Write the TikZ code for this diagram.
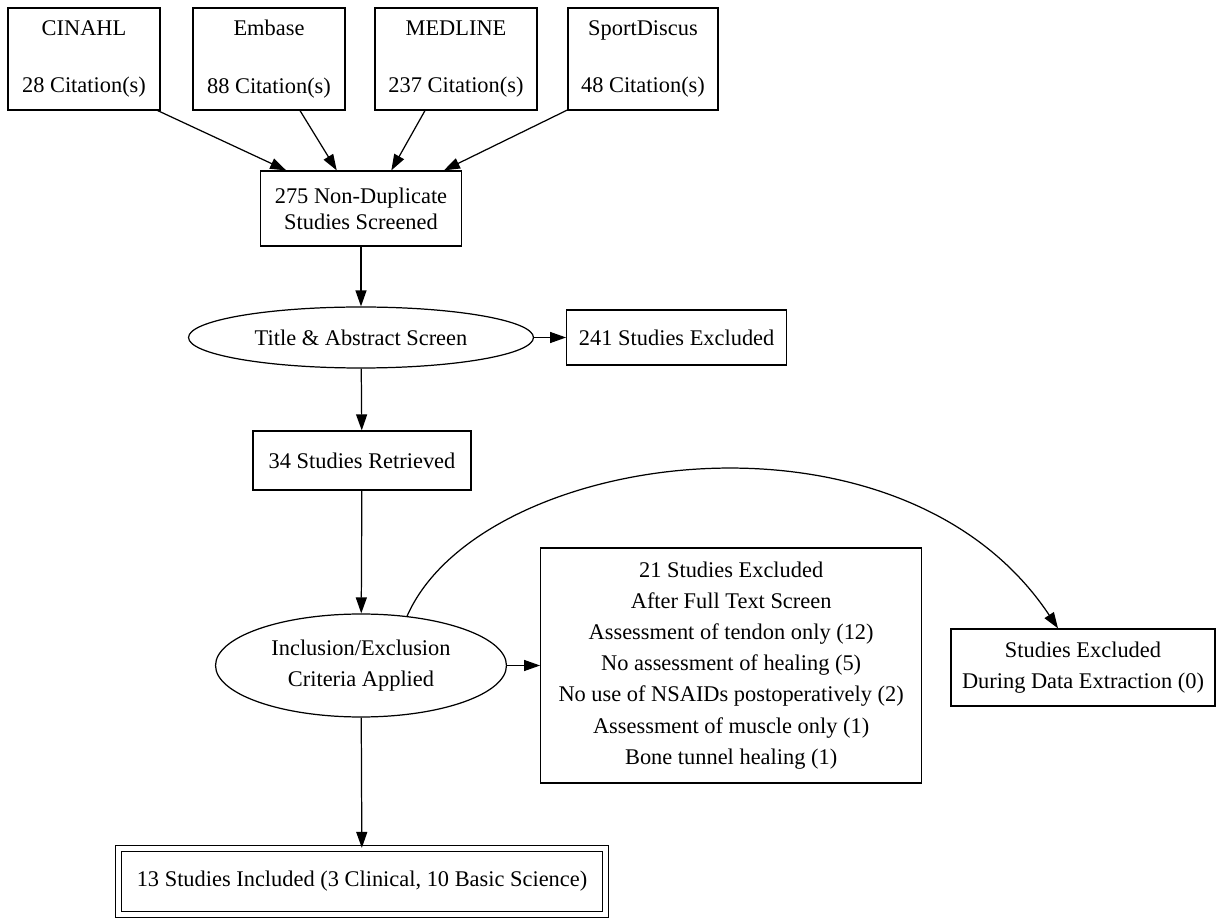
\documentclass[tikz,border=0pt]{standalone}
\usepackage{fontspec}
\setmainfont{Liberation Serif}
\usetikzlibrary{arrows.meta,calc,positioning,shapes.geometric}

\begin{document}
\begin{tikzpicture}[
  x=0.02cm, y=-0.02cm,
  font=\fontsize{12.75}{17.7}\selectfont,
  caixa/.style={draw,rectangle,align=center,inner sep=2pt,line width=0.7pt},
  fonte/.style={caixa,minimum height=2.04cm,font=\fontsize{12.75}{16.4}\selectfont},
  elipse/.style={draw,ellipse,align=center,inner sep=0pt,line width=0.7pt},
  seta/.style={-{Triangle[length=3.2mm,width=2.2mm]},line width=0.7pt}
]
  \useasboundingbox (0,0) rectangle (1221,918);
  % bases de dados
  \node[fonte,minimum width=3.04cm] (cinahl) at (84,59) {CINAHL\\\mbox{}\\28 Citation(s)};
  \node[fonte,minimum width=3.04cm] (embase) at (269,59) {Embase\\\mbox{}\\88 Citation(s)};
  \node[fonte,minimum width=3.24cm] (medline) at (456,59) {MEDLINE\\\mbox{}\\237 Citation(s)};
  \node[fonte,minimum width=3.0cm] (sport) at (643,59) {SportDiscus\\\mbox{}\\48 Citation(s)};
  \node[caixa,minimum width=4.02cm,minimum height=1.5cm,font=\fontsize{12.75}{14.7}\selectfont]
        (scr) at (361,208.5) {275 Non-Duplicate\\Studies Screened};
  % triagem
  \node[elipse,minimum width=6.9cm,minimum height=1.22cm] (tas) at (361,337.5) {Title \& Abstract Screen};
  \node[caixa,right=0.64cm of tas,minimum width=4.4cm,minimum height=1.1cm] (exc1) {241 Studies Excluded};
  \node[caixa,minimum width=4.36cm,minimum height=1.18cm] (ret) at (362,460.5) {34 Studies Retrieved};
  \node[elipse,minimum width=5.82cm,minimum height=2.06cm] (incl) at (361,665.5) {Inclusion/Exclusion\\Criteria Applied};
  \node[caixa,right=0.66cm of incl,minimum width=7.62cm,minimum height=4.7cm] (ft)
        {21 Studies Excluded\\After Full Text Screen\\Assessment of tendon only (12)\\No assessment of healing (5)\\No use of NSAIDs postoperatively (2)\\Assessment of muscle only (1)\\Bone tunnel healing (1)};
  \node[caixa,minimum width=5.28cm,minimum height=1.54cm] (sde) at (1083,667.5) {Studies Excluded\\During Data Extraction (0)};
  \node[caixa,double,double distance=3pt,minimum width=9.74cm,minimum height=1.32cm] (final) at (362,881.5)
        {13 Studies Included (3 Clinical, 10 Basic Science)};
  \coordinate (sdetop) at ($(sde.north)+(-25,0)$);
  % ligações
  \draw[seta] (cinahl.-35) -- ($(scr.north west)!0.13!(scr.north east)$);
  \draw[seta] (embase.-59) -- ($(scr.north west)!0.38!(scr.north east)$);
  \draw[seta] (medline.-121) -- ($(scr.north west)!0.65!(scr.north east)$);
  \draw[seta] (sport.-146) -- ($(scr.north west)!0.91!(scr.north east)$);
  \draw[seta] (scr) -- (tas);
  \draw[seta] (tas) -- (exc1);
  \draw[seta] (tas) -- (ret);
  \draw[seta] (ret) -- (incl);
  \draw[seta] (incl) -- (ft);
  \draw[seta] (incl) -- (final);
  \draw[seta] (incl.47) .. controls (480,450) and (900,390) .. (sdetop);
\end{tikzpicture}
\end{document}
